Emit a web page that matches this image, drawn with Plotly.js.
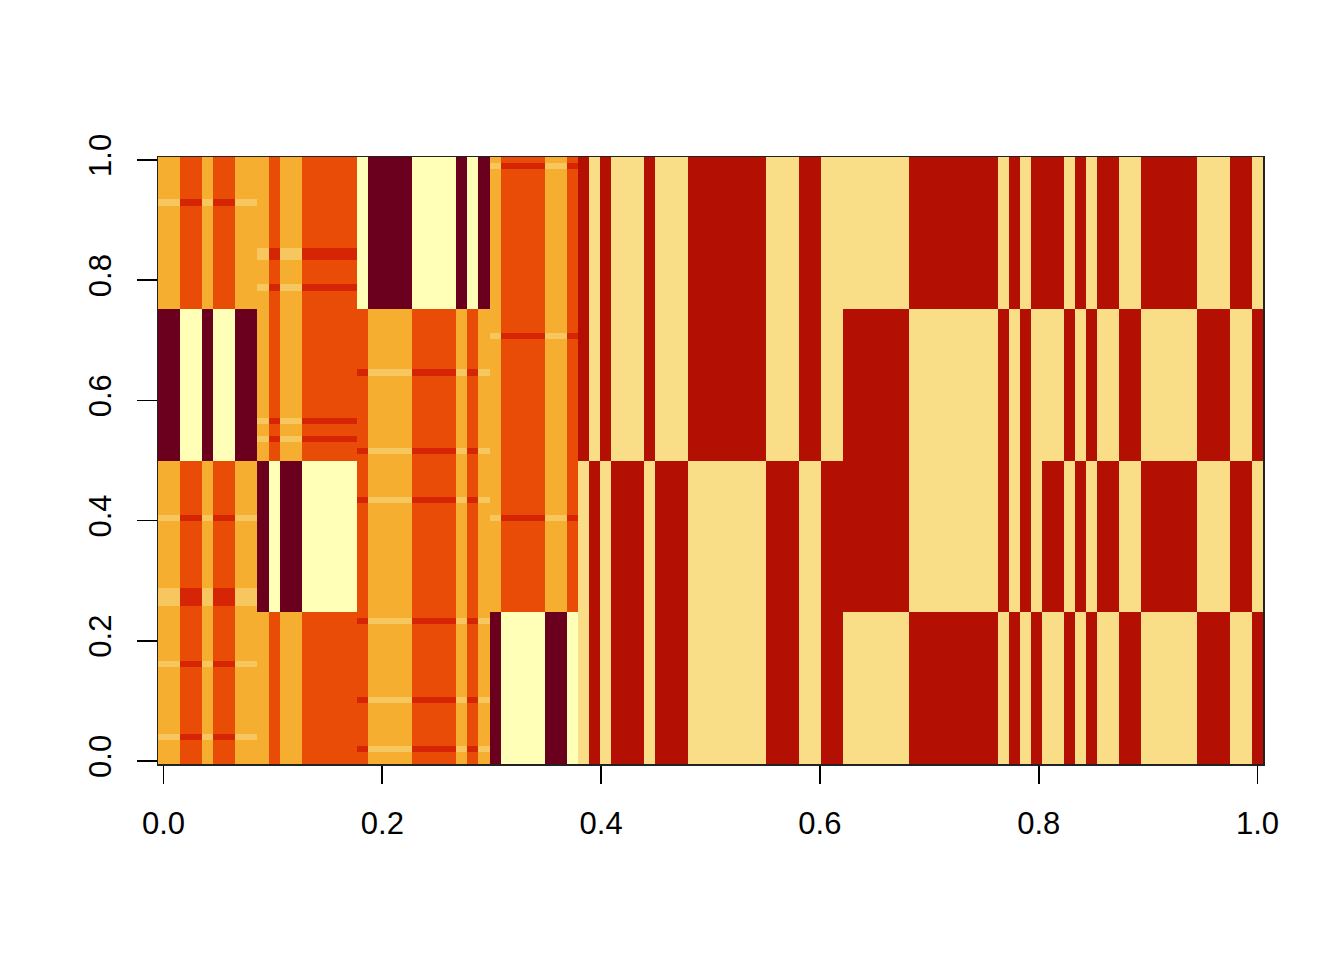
<!DOCTYPE html>
<html>
<head>
<meta charset="utf-8">
<script src="https://cdn.plot.ly/plotly-3.0.1.min.js"></script>
<style>html,body{margin:0;padding:0;background:#fff}#chart{width:1344px;height:960px}</style>
</head>
<body>
<div id="chart"></div>
<script>
// Colour categories seen in the picture
const categories = ["D", "P", "O", "R", "L", "H", "K", "Y"];
const categoryColors = ["#6A001E", "#FFFFB8", "#F5AE2F", "#E84C07", "#F6C65F", "#D62504", "#B31003", "#F9DE87"];

// Column patterns of each block, as seen in a normal (not swapped) row
const blockA = "OORRORROO";
const blockB = "OROORRRRR";
const blockC = "ROOOORRRRORO";
const blockD = "ORRRROOR";
const blockE = "KYKYYYKYYYKKKKKKKYYYKKYY";
const blockF = "YYYYYYKKKKKKKKYKYK";
const blockG = "KKYKYKKYYKKKKKYYYKKY";

// Row quarter (0 = top quarter ... 3 = bottom quarter) in which each block is swapped
const darkQuarterA = [1];
const darkQuarterB = [2];
const darkQuarterC = [0];
const darkQuarterD = [3];
const swapQuarterE = [2, 3];
const swapQuarterF = [1, 2];
const swapQuarterG = [1, 3];

// Rows (counted from the top) where a block shows the highlighted shades
const highlightA = [7, 59, 71, 72, 73, 83, 95];
const highlightB = [15, 16, 21, 43, 46];
const highlightC = [35, 48, 56, 76, 89, 97];
const highlightD = [1, 29, 59];

const tickValues = [0, 0.2, 0.4, 0.6, 0.8, 1];
const tickLabels = ["0.0", "0.2", "0.4", "0.6", "0.8", "1.0"];

const rowCount = 100;
const colCount = 100;

function warmBlock(pattern, darkQuarters, highlights, t) {
  const q = Math.floor(t / 25);
  const dark = darkQuarters.includes(q);
  const hi = highlights.includes(t);
  return pattern.split("").map(c => {
    if (dark) return c === "O" ? "D" : "P";
    if (hi) return c === "O" ? "L" : "H";
    return c;
  });
}
function twoToneBlock(pattern, swapQuarters, t) {
  const swap = swapQuarters.includes(Math.floor(t / 25));
  return pattern.split("").map(c => swap ? (c === "K" ? "Y" : "K") : c);
}

const xs = [];
for (let c = 0; c < colCount; c++) xs.push(c / (colCount - 1));
const ys = [];
const z = [];
for (let t = 0; t < rowCount; t++) {
  ys.push(1 - t / (rowCount - 1));
  const row = [].concat(
    warmBlock(blockA, darkQuarterA, highlightA, t),
    warmBlock(blockB, darkQuarterB, highlightB, t),
    warmBlock(blockC, darkQuarterC, highlightC, t),
    warmBlock(blockD, darkQuarterD, highlightD, t),
    twoToneBlock(blockE, swapQuarterE, t),
    twoToneBlock(blockF, swapQuarterF, t),
    twoToneBlock(blockG, swapQuarterG, t)
  );
  z.push(row.map(c => categories.indexOf(c)));
}

const n = categories.length;
const colorscale = [];
categoryColors.forEach((col, i) => {
  colorscale.push([i / n, col]);
  colorscale.push([(i + 1) / n, col]);
});

const half = 0.5 / (colCount - 1);
const font = {family: '"Liberation Sans", Arial, sans-serif', size: 31, color: "#000"};
const axisBase = {
  showgrid: false, zeroline: false, showline: true, mirror: true,
  linecolor: "#222", linewidth: 1.5,
  ticks: "outside", tickwidth: 1.7, tickcolor: "#000",
  tickmode: "array", tickvals: tickValues, ticktext: tickLabels,
  tickfont: font
};

Plotly.newPlot("chart", [{
  type: "heatmap", x: xs, y: ys, z: z,
  zmin: -0.5, zmax: n - 0.5,
  colorscale: colorscale, showscale: false, hoverinfo: "skip"
}], {
  width: 1344, height: 960,
  margin: {l: 157.5, r: 81, t: 157, b: 196, pad: 0},
  paper_bgcolor: "#fff", plot_bgcolor: "#fff",
  xaxis: Object.assign({}, axisBase, {range: [-half, 1 + half], ticklen: 18, ticklabelstandoff: 13}),
  yaxis: Object.assign({}, axisBase, {range: [-half, 1 + half], ticklen: 20, tickangle: -90, ticklabelstandoff: 13})
}, {displayModeBar: false, staticPlot: true});
</script>
</body>
</html>
